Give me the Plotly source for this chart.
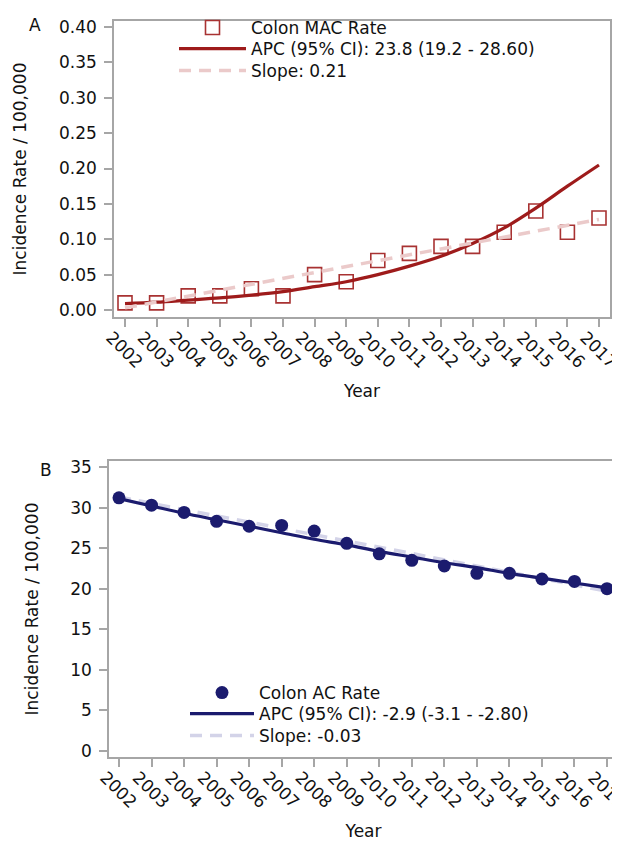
import plotly.graph_objects as go

years = list(range(2002, 2018))
year_labels = [str(y) for y in years]

# Panel A: Colon MAC
mac_rate = [0.01, 0.01, 0.02, 0.02, 0.03, 0.02, 0.05, 0.04, 0.07, 0.08, 0.09, 0.09, 0.11, 0.14, 0.11, 0.13]
mac_apc = [0.009, 0.011, 0.014, 0.017, 0.021, 0.026, 0.033, 0.040, 0.050, 0.062, 0.076, 0.094, 0.116, 0.144, 0.175, 0.205]
mac_slope_years = [2002, 2017]
mac_slope = [0.003, 0.128]

# Panel B: Colon AC
ac_rate = [31.2, 30.3, 29.4, 28.3, 27.7, 27.8, 27.1, 25.6, 24.3, 23.5, 22.8, 21.9, 21.9, 21.2, 20.9, 20.0]
ac_apc = [31.1, 30.2, 29.3, 28.5, 27.7, 26.9, 26.1, 25.4, 24.6, 23.9, 23.2, 22.6, 21.9, 21.3, 20.7, 20.1]
ac_slope_years = [2002, 2017]
ac_slope = [31.3, 19.7]

yA_ticks = [0.00, 0.05, 0.10, 0.15, 0.20, 0.25, 0.30, 0.35, 0.40]
yA_labels = ["0.00", "0.05", "0.10", "0.15", "0.20", "0.25", "0.30", "0.35", "0.40"]
yB_ticks = [0, 5, 10, 15, 20, 25, 30, 35]

FONT = "DejaVu Sans"
FS = 17
TXT = "#111111"
RED = "#9E1B1B"
RED_MK = "#A83232"
PINK = "#EBCACA"
NAVY = "#1B1B6E"
LAV = "#D3D3E8"
FRAME = "#A6A6A6"

W, H = 620, 843


def px_x(p):
    return p / W


def px_y(p):
    return 1 - p / H


fig = go.Figure()

fig.add_trace(go.Scatter(x=years, y=mac_rate, mode="markers", name="Colon MAC Rate",
                         marker=dict(symbol="square-open", size=14, color=RED_MK, line=dict(width=1.6)),
                         xaxis="x", yaxis="y", legend="legend", showlegend=True))
fig.add_trace(go.Scatter(x=years, y=mac_apc, mode="lines", name="APC (95% CI): 23.8 (19.2 - 28.60)",
                         line=dict(color=RED, width=3.2, shape="spline"),
                         xaxis="x", yaxis="y", legend="legend2"))
fig.add_trace(go.Scatter(x=mac_slope_years, y=mac_slope, mode="lines", name="Slope: 0.21",
                         line=dict(color=PINK, width=3.5, dash="12px,8px"),
                         xaxis="x", yaxis="y", legend="legend3"))

fig.add_trace(go.Scatter(x=ac_slope_years, y=ac_slope, mode="lines", name="Slope: -0.03",
                         line=dict(color=LAV, width=3.5, dash="12px,8px"),
                         xaxis="x2", yaxis="y2", legend="legend6"))
fig.add_trace(go.Scatter(x=years, y=ac_apc, mode="lines", name="APC (95% CI): -2.9 (-3.1 - -2.80)",
                         line=dict(color=NAVY, width=3.2, shape="spline"),
                         xaxis="x2", yaxis="y2", legend="legend5"))
fig.add_trace(go.Scatter(x=years, y=ac_rate, mode="markers", name="Colon AC Rate",
                         marker=dict(symbol="circle", size=13, color=NAVY),
                         xaxis="x2", yaxis="y2", legend="legend4"))

tick_font = dict(family=FONT, size=FS, color=TXT)
axis_common = dict(showline=True, mirror=True, linecolor=FRAME, linewidth=1.5,
                   ticks="outside", ticklen=8, tickwidth=1.5, tickcolor=FRAME,
                   showgrid=False, zeroline=False, automargin=False,
                   tickfont=tick_font, ticklabeloverflow="allow")
title_font = dict(family=FONT, size=FS, color=TXT)


def legend_at(xpix, ypix, width):
    return dict(x=px_x(xpix), y=px_y(ypix), xanchor="left", yanchor="middle",
                bgcolor="rgba(0,0,0,0)", borderwidth=0,
                font=dict(family=FONT, size=FS, color=TXT),
                itemwidth=width, tracegroupgap=0)


xaxis_extra = dict(tickvals=years, ticktext=year_labels, tickangle=45,
                   ticklabelshift=-14, ticklabelstandoff=-6)

fig.update_layout(
    width=W, height=H,
    margin=dict(l=0, r=0, t=0, b=0),
    paper_bgcolor="white", plot_bgcolor="white",
    font=dict(family=FONT, size=FS, color=TXT),
    showlegend=True,
    xaxis=dict(domain=[px_x(106), px_x(602)], range=[2001.652, 2017.348], anchor="y",
               title=dict(text="Year", font=title_font, standoff=14),
               **xaxis_extra, **axis_common),
    yaxis=dict(domain=[px_y(309), px_y(13)], range=[-0.0099, 0.4085], anchor="x",
               tickvals=yA_ticks, ticktext=yA_labels, ticklabelstandoff=4,
               title=dict(text="Incidence Rate / 100,000", font=title_font, standoff=28),
               **axis_common),
    xaxis2=dict(domain=[px_x(101), px_x(610)], range=[2001.693, 2017.338], anchor="y2",
                title=dict(text="Year", font=title_font, standoff=14),
                **xaxis_extra, **axis_common),
    yaxis2=dict(domain=[px_y(749), px_y(453)], range=[-0.74, 35.74], anchor="x2",
                tickvals=yB_ticks, ticklabelstandoff=4,
                title=dict(text="Incidence Rate / 100,000", font=title_font, standoff=27),
                **axis_common),
    legend=legend_at(166, 20, 67),
    legend2=legend_at(166, 41, 67),
    legend3=legend_at(166, 63, 67),
    legend4=legend_at(177, 685, 64),
    legend5=legend_at(177, 706, 64),
    legend6=legend_at(177, 728, 64),
    annotations=[
        dict(text="A", x=px_x(27), y=px_y(17), xref="paper", yref="paper",
             xanchor="center", yanchor="middle",
             showarrow=False, font=dict(family=FONT, size=FS, color=TXT)),
        dict(text="B", x=px_x(38), y=px_y(462), xref="paper", yref="paper",
             xanchor="center", yanchor="middle",
             showarrow=False, font=dict(family=FONT, size=FS, color=TXT)),
    ],
)

fig.write_html("out.html")
